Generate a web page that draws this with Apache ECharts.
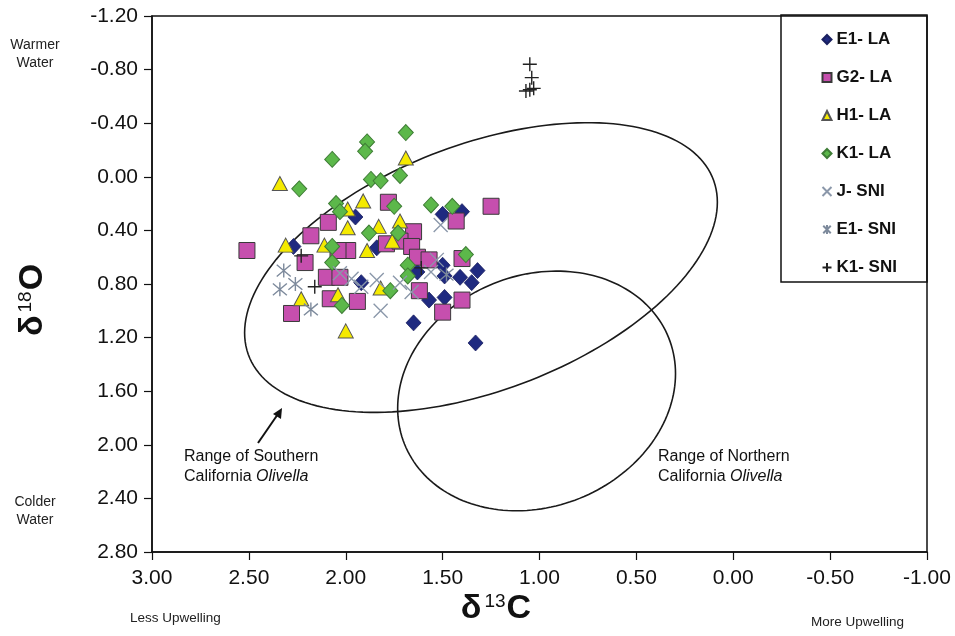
<!DOCTYPE html>
<html><head><meta charset="utf-8">
<script src="https://cdn.jsdelivr.net/npm/echarts@6/dist/echarts.min.js"></script>
<style>html,body{margin:0;padding:0;background:#fff}#c{width:955px;height:636px}</style>
</head><body><div id="c"></div>
<script>
// ---- data (x = δ13C, y = δ18O) ----
const seriesNames = ['E1- LA','G2- LA','H1- LA','K1- LA','J- SNI','E1- SNI','K1- SNI'];
const e1LA = [[1.95,0.30],[1.50,0.28],[1.40,0.26],[2.27,0.52],[1.84,0.53],[1.63,0.71],[1.50,0.66],[1.49,0.74],[1.41,0.75],[1.35,0.79],[1.32,0.70],[1.57,0.92],[1.49,0.90],[1.65,1.09],[1.33,1.24],[1.92,0.79]];
const g2LA = [[1.78,0.19],[1.25,0.22],[1.43,0.33],[2.09,0.34],[2.18,0.44],[2.51,0.55],[1.65,0.41],[1.79,0.50],[1.72,0.48],[1.66,0.52],[1.99,0.55],[2.04,0.55],[2.21,0.64],[2.10,0.75],[2.03,0.75],[2.08,0.91],[1.94,0.93],[2.28,1.02],[1.62,0.85],[1.40,0.92],[1.50,1.01],[1.40,0.61],[1.63,0.60],[1.57,0.62]];
const h1LA = [[1.69,-0.14],[2.34,0.05],[1.91,0.18],[1.99,0.24],[1.99,0.38],[1.83,0.37],[1.72,0.33],[2.31,0.51],[2.11,0.51],[1.89,0.55],[1.76,0.48],[1.82,0.83],[2.04,0.88],[2.23,0.91],[2.00,1.15]];
const k1LA = [[1.69,-0.33],[1.89,-0.26],[1.90,-0.19],[2.07,-0.13],[2.24,0.09],[1.87,0.02],[1.82,0.03],[1.72,-0.01],[2.05,0.20],[2.03,0.26],[1.56,0.21],[1.45,0.22],[1.75,0.22],[1.88,0.42],[1.73,0.42],[2.07,0.52],[2.07,0.64],[1.68,0.66],[1.68,0.74],[1.38,0.58],[1.77,0.85],[2.02,0.96]];
const jSNI = [[1.51,0.36],[2.03,0.72],[1.97,0.76],[1.84,0.77],[1.72,0.79],[1.66,0.86],[1.53,0.62],[1.82,1.00],[1.56,0.71],[1.92,0.82]];
const e1SNI = [[2.32,0.70],[2.34,0.84],[2.26,0.80],[2.18,0.99],[1.48,0.73]];
const k1SNI = [[2.23,0.59],[2.16,0.82],[1.61,0.68],[1.05,-0.84],[1.04,-0.74],[1.07,-0.64],[1.05,-0.65],[1.03,-0.66]];
// ellipse ranges: centre, two conjugate semi-axis vectors (data units)
const southCentre = [1.302, 0.677], southU = [-1.220, -0.487], southV = [0, 0.965];
const northCentre = [1.015, 1.598], northU = [-0.717, -0.129], northV = [0, 0.885];
const xMin = -1, xMax = 3, xStep = 0.5;
const yMin = -1.2, yMax = 2.8, yStep = 0.4;

const FONT = '"Liberation Sans", Arial, sans-serif';
const chart = echarts.init(document.getElementById('c'), null, {renderer:'canvas'});

function ellipseSeries(c, u, v){
  return {
    type:'custom', silent:true, z:1, clip:true,
    data:[[c[0], c[1], u[0], u[1], v[0], v[1]]],
    renderItem:function(params, api){
      const pts=[];
      const cx=api.value(0), cy=api.value(1), ux=api.value(2), uy=api.value(3), vx=api.value(4), vy=api.value(5);
      for(let i=0;i<=180;i++){
        const t=i/180*Math.PI*2;
        pts.push(api.coord([cx+ux*Math.cos(t)+vx*Math.sin(t), cy+uy*Math.cos(t)+vy*Math.sin(t)]));
      }
      return {type:'polyline', shape:{points:pts}, style:{stroke:'#1a1a1a', lineWidth:1.6, fill:null}};
    }
  };
}
const X_PATH='path://M0,0L10,10M10,0L0,10';
const AST_PATH='path://M0,0L10,10M10,0L0,10M5,-1L5,11';
const PLUS_PATH='path://M5,0L5,10M0,5L10,5';

const titleRich = {d:{fontSize:34, fontWeight:'bold', fontFamily:FONT, fill:'#111'}, s:{fontSize:19, fontFamily:FONT, fill:'#111', verticalAlign:'top', padding:[0,1,12,3]}};

const option = {
  backgroundColor:'#ffffff',
  animation:false,
  grid:{left:152, right:28, top:16, bottom:84, show:true, borderColor:'#111', borderWidth:1.5, backgroundColor:'transparent'},
  xAxis:{type:'value', inverse:true, min:xMin, max:xMax, interval:xStep,
    axisLine:{show:true, onZero:false, lineStyle:{color:'#111', width:1.5}},
    axisTick:{show:true, inside:false, length:8, lineStyle:{color:'#111', width:1.2}},
    axisLabel:{color:'#111', fontFamily:FONT, fontSize:21, margin:16, formatter:v=>v.toFixed(2)},
    splitLine:{show:false}},
  yAxis:{type:'value', inverse:true, min:yMin, max:yMax, interval:yStep,
    axisLine:{show:true, onZero:false, lineStyle:{color:'#111', width:1.5}},
    axisTick:{show:true, inside:false, length:8, lineStyle:{color:'#111', width:1.2}},
    axisLabel:{color:'#111', fontFamily:FONT, fontSize:21, margin:14, formatter:v=>v.toFixed(2)},
    splitLine:{show:false}},
  legend:{orient:'vertical', left:815, top:26, itemWidth:9, itemHeight:9, itemGap:21,
    data:seriesNames,
    textStyle:{fontFamily:FONT, fontSize:17, fontWeight:'bold', color:'#111', lineHeight:17}},
  series:[
    ellipseSeries(southCentre, southU, southV),
    ellipseSeries(northCentre, northU, northV),
    {name:seriesNames[0], type:'scatter', symbol:'diamond', symbolSize:[15,16], z:3, data:e1LA,
      itemStyle:{color:'#1f2a80', borderColor:'#1a2060', borderWidth:0.8, opacity:1}},
    {name:seriesNames[1], type:'scatter', symbol:'rect', symbolSize:16, z:3, data:g2LA,
      itemStyle:{color:'#c64fae', borderColor:'#3a3a3a', borderWidth:1, opacity:1}},
    {name:seriesNames[2], type:'scatter', symbol:'triangle', symbolSize:[15,14], z:3, data:h1LA,
      itemStyle:{color:'#f5ea00', borderColor:'#555', borderWidth:1, opacity:1}},
    {name:seriesNames[3], type:'scatter', symbol:'diamond', symbolSize:[15,16], z:3, data:k1LA,
      itemStyle:{color:'#5cb84a', borderColor:'#3f7d36', borderWidth:1, opacity:1}},
    {name:seriesNames[4], type:'scatter', symbol:X_PATH, symbolSize:14, z:3, data:jSNI,
      itemStyle:{color:'none', borderColor:'#8b98aa', borderWidth:1.4, opacity:1}},
    {name:seriesNames[5], type:'scatter', symbol:AST_PATH, symbolSize:14, z:3, data:e1SNI,
      itemStyle:{color:'none', borderColor:'#7d8a9c', borderWidth:1.4, opacity:1}},
    {name:seriesNames[6], type:'scatter', symbol:PLUS_PATH, symbolSize:14, z:3, data:k1SNI,
      itemStyle:{color:'none', borderColor:'#222', borderWidth:1.4, opacity:1}}
  ],
  graphic:[
    {type:'rect', z:10, shape:{x:781, y:15, width:146, height:267}, style:{fill:'none', stroke:'#111', lineWidth:1.5}},
    // y axis title
    {type:'text', x:33, y:300, rotation:Math.PI/2, z:10,
      style:{text:'{d|δ}{s|18}{d|O}', fontFamily:FONT, align:'center', verticalAlign:'middle', rich:titleRich}},
    // x axis title
    {type:'text', x:496, y:609, z:10,
      style:{text:'{d|δ}{s|13}{d|C}', fontFamily:FONT, align:'center', verticalAlign:'middle', rich:titleRich}},
    {type:'text', x:35, y:54, z:10, style:{text:'Warmer\nWater', fontFamily:FONT, fontSize:14, lineHeight:18, fill:'#222', align:'center', verticalAlign:'middle'}},
    {type:'text', x:35, y:511, z:10, style:{text:'Colder\nWater', fontFamily:FONT, fontSize:14, lineHeight:18, fill:'#222', align:'center', verticalAlign:'middle'}},
    {type:'text', x:130, y:618, z:10, style:{text:'Less Upwelling', fontFamily:FONT, fontSize:13.5, fill:'#222', align:'left', verticalAlign:'middle'}},
    {type:'text', x:904, y:622, z:10, style:{text:'More Upwelling', fontFamily:FONT, fontSize:13.5, fill:'#222', align:'right', verticalAlign:'middle'}},
    {type:'text', x:184, y:467, z:10, style:{text:'Range of Southern\n{i|California }{i2|Olivella}', fontFamily:FONT, fontSize:16, lineHeight:20, fill:'#111', verticalAlign:'middle',
      rich:{i:{fontSize:16, fontFamily:FONT, fill:'#111'}, i2:{fontSize:16, fontFamily:FONT, fontStyle:'italic', fill:'#111'}}}},
    {type:'text', x:658, y:467, z:10, style:{text:'Range of Northern\n{i|California }{i2|Olivella}', fontFamily:FONT, fontSize:16, lineHeight:20, fill:'#111', verticalAlign:'middle',
      rich:{i:{fontSize:16, fontFamily:FONT, fill:'#111'}, i2:{fontSize:16, fontFamily:FONT, fontStyle:'italic', fill:'#111'}}}},
    {type:'line', z:10, shape:{x1:258, y1:443, x2:278, y2:414}, style:{stroke:'#111', lineWidth:2}},
    {type:'polygon', z:10, shape:{points:[[282,408],[273,414],[281,419]]}, style:{fill:'#111'}}
  ]
};
chart.setOption(option);
</script></body></html>
